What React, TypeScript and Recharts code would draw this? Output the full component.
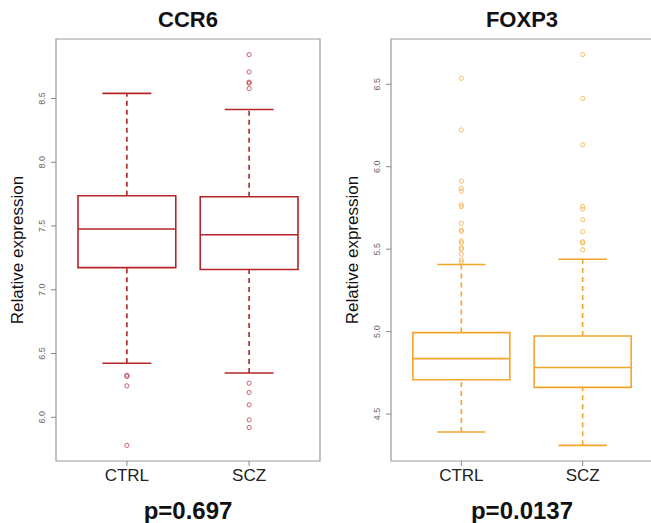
import React from "react";
import {
  ComposedChart,
  Scatter,
  XAxis,
  YAxis,
  ReferenceArea,
  ReferenceLine,
} from "recharts";

const groups = ["CTRL", "SCZ"];

// CCR6 box stats, one value per group (CTRL, SCZ)
const ccr6Lower = [6.424, 6.348];
const ccr6Q1 = [7.174, 7.159];
const ccr6Median = [7.477, 7.432];
const ccr6Q3 = [7.737, 7.729];
const ccr6Upper = [8.54, 8.414];
const ccr6CtrlOutliers = [6.33, 6.32, 6.247, 5.78];
const ccr6SczOutliers = [8.844, 8.708, 8.628, 8.62, 8.578, 6.268, 6.195, 6.098, 5.98, 5.92];
const ccr6Ticks = [6.0, 6.5, 7.0, 7.5, 8.0, 8.5];

// FOXP3 box stats
const foxp3Lower = [4.391, 4.31];
const foxp3Q1 = [4.708, 4.662];
const foxp3Median = [4.836, 4.782];
const foxp3Q3 = [4.994, 4.973];
const foxp3Upper = [5.407, 5.439];
const foxp3CtrlOutliers = [
  6.536, 6.223, 5.913, 5.869, 5.851, 5.768, 5.758, 5.657, 5.616, 5.608, 5.55, 5.54, 5.51,
  5.5, 5.47, 5.435, 5.423,
];
const foxp3SczOutliers = [6.68, 6.414, 6.133, 5.76, 5.744, 5.679, 5.606, 5.545, 5.537, 5.496];
const foxp3Ticks = [4.5, 5.0, 5.5, 6.0, 6.5];

const FONT = 'Arial, "Liberation Sans", sans-serif';
const X_DOMAIN: [number, number] = [0.42, 2.58];

interface BoxProps {
  title: string;
  pValue: string;
  color: string;
  left: number;
  lower: number[];
  q1: number[];
  median: number[];
  q3: number[];
  upper: number[];
  outliers: number[][];
  ticks: number[];
  axisWidth: number;
  marginRight: number;
}

function YTick({ x, y, payload }: any) {
  return (
    <text
      x={x - 4}
      y={y}
      transform={`rotate(-90, ${x - 4}, ${y})`}
      textAnchor="middle"
      fontSize={9}
      fill="#666"
      fontFamily={FONT}
    >
      {Number(payload.value).toFixed(1)}
    </text>
  );
}

function XTick({ x, y, payload }: any) {
  return (
    <text x={x} y={y + 13} textAnchor="middle" fontSize={17} fill="#222" fontFamily={FONT}>
      {groups[payload.value - 1]}
    </text>
  );
}

function BoxPanel(p: BoxProps) {
  const points = p.outliers.flatMap((vals, i) => vals.map((v) => ({ x: i + 1, y: v })));
  const all = [...p.lower, ...p.upper, ...points.map((d) => d.y)];
  const lo = Math.min(...all);
  const hi = Math.max(...all);
  const pad = (hi - lo) * 0.04;
  const yDomain: [number, number] = [lo - pad, hi + pad];
  const width = 330;
  const plotLeft = p.left + p.axisWidth;
  const plotRight = p.left + width - p.marginRight;
  const center = (plotLeft + plotRight) / 2;

  return (
    <>
      <div
        style={{
          position: "absolute",
          left: center - 100,
          width: 200,
          top: 7,
          textAlign: "center",
          fontFamily: FONT,
          fontWeight: "bold",
          fontSize: 22,
          color: "#111",
        }}
      >
        {p.title}
      </div>
      <div
        style={{
          position: "absolute",
          left: p.left + p.axisWidth - 38 - 100,
          width: 200,
          top: 240,
          textAlign: "center",
          fontFamily: FONT,
          fontSize: 17,
          color: "#111",
          transform: "rotate(-90deg)",
        }}
      >
        Relative expression
      </div>
      <div
        style={{
          position: "absolute",
          left: center - 100,
          width: 200,
          top: 497,
          textAlign: "center",
          fontFamily: FONT,
          fontWeight: "bold",
          fontSize: 24,
          color: "#111",
        }}
      >
        {p.pValue}
      </div>
      <div style={{ position: "absolute", left: p.left, top: 0 }}>
        <ComposedChart
          width={width}
          height={523}
          margin={{ top: 39, right: p.marginRight, bottom: 42, left: 0 }}
        >
          <XAxis
            type="number"
            dataKey="x"
            domain={X_DOMAIN}
            ticks={[1, 2]}
            allowDataOverflow
            axisLine={false}
            tickSize={5}
            tickLine={{ stroke: "#888" }}
            tick={<XTick />}
            height={20}
          />
          <YAxis
            type="number"
            dataKey="y"
            domain={yDomain}
            ticks={p.ticks}
            allowDataOverflow
            axisLine={false}
            tickSize={5}
            tickMargin={2}
            tickLine={{ stroke: "#888" }}
            tick={<YTick />}
            width={p.axisWidth}
          />
          <ReferenceArea
            x1={X_DOMAIN[0]}
            x2={X_DOMAIN[1]}
            y1={yDomain[0]}
            y2={yDomain[1]}
            fill="none"
            stroke="#999"
            strokeWidth={1.2}
          />
          {groups.map((g, i) => {
            const c = i + 1;
            return (
              <React.Fragment key={g}>
                <ReferenceLine
                  segment={[{ x: c, y: p.q3[i] }, { x: c, y: p.upper[i] }]}
                  stroke={p.color}
                  strokeWidth={1.6}
                  strokeDasharray="5 4"
                />
                <ReferenceLine
                  segment={[{ x: c, y: p.lower[i] }, { x: c, y: p.q1[i] }]}
                  stroke={p.color}
                  strokeWidth={1.6}
                  strokeDasharray="5 4"
                />
                <ReferenceLine
                  segment={[{ x: c - 0.2, y: p.upper[i] }, { x: c + 0.2, y: p.upper[i] }]}
                  stroke={p.color}
                  strokeWidth={1.6}
                />
                <ReferenceLine
                  segment={[{ x: c - 0.2, y: p.lower[i] }, { x: c + 0.2, y: p.lower[i] }]}
                  stroke={p.color}
                  strokeWidth={1.6}
                />
                <ReferenceArea
                  x1={c - 0.4}
                  x2={c + 0.4}
                  y1={p.q1[i]}
                  y2={p.q3[i]}
                  fill="#fff"
                  fillOpacity={1}
                  stroke={p.color}
                  strokeWidth={1.6}
                />
                <ReferenceLine
                  segment={[{ x: c - 0.4, y: p.median[i] }, { x: c + 0.4, y: p.median[i] }]}
                  stroke={p.color}
                  strokeWidth={1.6}
                />
              </React.Fragment>
            );
          })}
          <Scatter
            data={points}
            dataKey="y"
            isAnimationActive={false}
            shape={(s: any) => (
              <circle
                cx={s.cx}
                cy={s.cy}
                r={2.1}
                fill="none"
                stroke={p.color}
                strokeOpacity={0.7}
                strokeWidth={1}
              />
            )}
          />
        </ComposedChart>
      </div>
    </>
  );
}

export default function App() {
  return (
    <div
      style={{
        position: "absolute",
        left: 0,
        top: 0,
        width: 651,
        height: 523,
        overflow: "hidden",
        background: "#fff",
      }}
    >
      <BoxPanel
        title="CCR6"
        pValue="p=0.697"
        color="#b52528"
        left={0}
        lower={ccr6Lower}
        q1={ccr6Q1}
        median={ccr6Median}
        q3={ccr6Q3}
        upper={ccr6Upper}
        outliers={[ccr6CtrlOutliers, ccr6SczOutliers]}
        ticks={ccr6Ticks}
        axisWidth={56}
        marginRight={10}
      />
      <BoxPanel
        title="FOXP3"
        pValue="p=0.0137"
        color="#f5a52c"
        left={330}
        lower={foxp3Lower}
        q1={foxp3Q1}
        median={foxp3Median}
        q3={foxp3Q3}
        upper={foxp3Upper}
        outliers={[foxp3CtrlOutliers, foxp3SczOutliers]}
        ticks={foxp3Ticks}
        axisWidth={61}
        marginRight={7}
      />
    </div>
  );
}
